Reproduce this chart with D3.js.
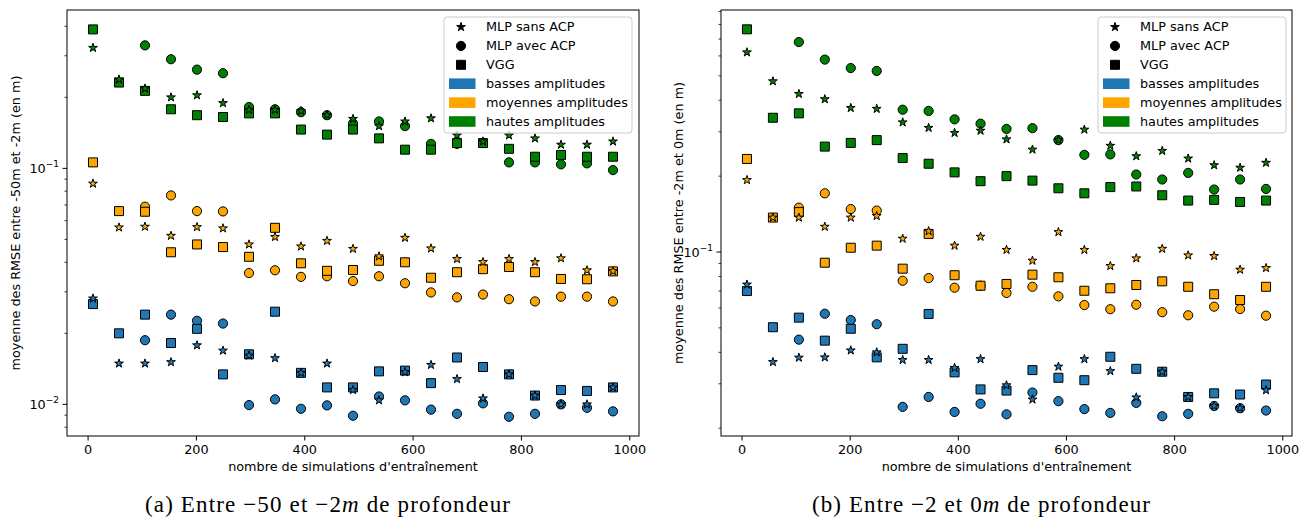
<!DOCTYPE html>
<html><head><meta charset="utf-8">
<script src="https://cdn.jsdelivr.net/npm/d3@7"></script>
<style>body{margin:0;background:#fff}svg{display:block}</style>
</head><body>
<svg id="chart" width="1309" height="517"></svg>
<script>
const simulations = [10,58,106,154,202,250,298,346,394,442,490,538,586,634,682,730,778,826,874,922,970];
const xTicks = [0,200,400,600,800,1000];
const models = ["MLP sans ACP","MLP avec ACP","VGG"];
const amplitudes = ["basses amplitudes","moyennes amplitudes","hautes amplitudes"];
const ampColors = ["#1f77b4","#ffa500","#008000"];

// (a) entre -50m et -2m
const aBassesSans = [0.0281,0.0149,0.0149,0.0151,0.0178,0.0169,0.0161,0.0157,0.0136,0.0149,0.0115,0.0104,0.0137,0.0147,0.0128,0.0106,0.0134,0.0109,0.0100,0.0100,0.0118];
const aBassesAvec = [null,null,0.0187,0.0240,0.0226,0.0220,0.00993,0.0105,0.00958,0.00990,0.00895,0.0108,0.0104,0.00950,0.00912,0.0101,0.00886,0.00912,0.0100,0.00967,0.00934];
const aBassesVGG  = [0.0266,0.0200,0.0240,0.0182,0.0209,0.0134,0.0163,0.0247,0.0136,0.0118,0.0118,0.0138,0.0139,0.0123,0.0158,0.0144,0.0134,0.0109,0.0115,0.0114,0.0118];
const aMoyennesSans = [0.0862,0.0562,0.0566,0.0518,0.0564,0.0557,0.0476,0.0512,0.0467,0.0493,0.0456,0.0424,0.0508,0.0458,0.0413,0.0401,0.0413,0.0401,0.0416,0.0370,0.0367];
const aMoyennesAvec = [null,null,0.0688,0.0768,0.0659,0.0657,0.0360,0.0370,0.0347,0.0349,0.0333,0.0349,0.0326,0.0298,0.0284,0.0292,0.0279,0.0273,0.0286,0.0286,0.0273];
const aMoyennesVGG  = [0.106,0.0659,0.0655,0.0441,0.0476,0.0464,0.0422,0.0560,0.0396,0.0368,0.0371,0.0406,0.0400,0.0344,0.0363,0.0374,0.0382,0.0363,0.0340,0.0339,0.0366];
const aHautesSans = [0.324,0.238,0.218,0.200,0.204,0.189,0.177,0.177,0.175,0.168,0.162,0.151,0.158,0.163,0.138,0.130,0.138,0.134,0.126,0.126,0.130];
const aHautesAvec = [null,null,0.332,0.290,0.262,0.253,0.182,0.178,0.173,0.168,0.155,0.158,0.151,0.127,0.127,0.128,0.106,0.106,0.104,0.105,0.0983];
const aHautesVGG  = [0.388,0.231,0.213,0.178,0.168,0.165,0.171,0.171,0.146,0.139,0.146,0.134,0.120,0.120,0.128,0.128,0.121,0.112,0.114,0.112,0.112];

// (b) entre -2m et 0m
const bBassesSans = [0.0743,0.0366,0.0381,0.0382,0.0407,0.0400,0.0373,0.0373,0.0347,0.0376,0.0296,0.0260,0.0351,0.0376,0.0337,0.0265,0.0335,0.0266,0.0245,0.0240,0.0283];
const bBassesAvec = [null,null,0.0449,0.0569,0.0537,0.0517,0.0243,0.0266,0.0232,0.0250,0.0227,0.0277,0.0256,0.0238,0.0230,0.0252,0.0223,0.0228,0.0245,0.0240,0.0235];
const bBassesVGG  = [0.0700,0.0503,0.0549,0.0445,0.0496,0.0382,0.0413,0.0568,0.0333,0.0285,0.0282,0.0340,0.0317,0.0310,0.0384,0.0344,0.0335,0.0266,0.0275,0.0272,0.0298];
const bMoyennesSans = [0.193,0.137,0.137,0.126,0.137,0.139,0.113,0.121,0.106,0.115,0.102,0.0924,0.120,0.102,0.0880,0.0944,0.103,0.0970,0.0964,0.0851,0.0864];
const bMoyennesAvec = [null,null,0.150,0.171,0.148,0.146,0.0769,0.0788,0.0722,0.0735,0.0688,0.0728,0.0667,0.0616,0.0593,0.0618,0.0577,0.0561,0.0607,0.0594,0.0559];
const bMoyennesVGG  = [0.234,0.137,0.144,0.0907,0.104,0.106,0.0859,0.118,0.0809,0.0735,0.0747,0.0813,0.0794,0.0702,0.0718,0.0740,0.0765,0.0728,0.0680,0.0645,0.0728];
const bHautesSans = [0.620,0.476,0.424,0.404,0.373,0.370,0.327,0.311,0.297,0.303,0.280,0.255,0.278,0.306,0.264,0.240,0.252,0.235,0.221,0.216,0.226];
const bHautesAvec = [null,null,0.681,0.580,0.537,0.523,0.367,0.363,0.336,0.323,0.308,0.310,0.278,0.243,0.244,0.203,0.194,0.206,0.177,0.194,0.178];
const bHautesVGG  = [0.765,0.341,0.355,0.262,0.271,0.278,0.236,0.224,0.207,0.191,0.200,0.192,0.179,0.171,0.181,0.182,0.168,0.160,0.161,0.158,0.160];

const FONT = "'DejaVu Sans', sans-serif";
const FS = 12.8;
const svg = d3.select("#chart");

const panels = [
  {
    series: [[aBassesSans,aBassesAvec,aBassesVGG],[aMoyennesSans,aMoyennesAvec,aMoyennesVGG],[aHautesSans,aHautesAvec,aHautesVGG]],
    left: 67, right: 639, top: 10, bottom: 436,
    yDomain: [Math.pow(10,-2.134), Math.pow(10,-0.329)],
    yLabel: "moyenne des RMSE entre -50m et -2m (en m)", yLabelX: 16,
    caption: ["(a) Entre ", "−50", " et ", "−2", "m", " de profondeur"], captionX: 327.5, captionW: 365,
    legendX: 444
  },
  {
    series: [[bBassesSans,bBassesAvec,bBassesVGG],[bMoyennesSans,bMoyennesAvec,bMoyennesVGG],[bHautesSans,bHautesAvec,bHautesVGG]],
    left: 721, right: 1292, top: 10, bottom: 436,
    yDomain: [Math.pow(10,-1.730), Math.pow(10,-0.0397)],
    yLabel: "moyenne des RMSE entre -2m et 0m (en m)", yLabelX: 679,
    caption: ["(b) Entre ", "−2", " et ", "0", "m", " de profondeur"], captionX: 981, captionW: 338,
    legendX: 1098
  }
];

const starSym = d3.symbol().type(d3.symbolStar).size(4.6*4.6/0.8908130915292852)();
const squareSym = d3.symbol().type(d3.symbolSquare).size(81)();
const circleSym = d3.symbol().type(d3.symbolCircle).size(Math.PI*4.6*4.6)();
const modelSym = [starSym, circleSym, squareSym];

panels.forEach(p => {
  const x = d3.scaleLinear().domain([-38, 1018]).range([p.left, p.right]);
  const y = d3.scaleLog().domain(p.yDomain).range([p.bottom, p.top]);
  const g = svg.append("g");

  // markers: circles (avec), squares (VGG), stars (sans)
  const order = [1, 2, 0];
  order.forEach(m => {
    p.series.forEach((amp, a) => {
      const vals = amp[m];
      const pts = simulations.map((s, i) => ({s, v: vals[i]})).filter(d => d.v != null);
      g.append("g").selectAll("path").data(pts).join("path")
        .attr("d", modelSym[m])
        .attr("transform", d => `translate(${x(d.s)},${y(d.v)})`)
        .attr("fill", ampColors[a])
        .attr("stroke", "#000")
        .attr("stroke-width", 1);
    });
  });

  // frame
  g.append("rect").attr("x", p.left).attr("y", p.top)
    .attr("width", p.right - p.left).attr("height", p.bottom - p.top)
    .attr("fill", "none").attr("stroke", "#000").attr("stroke-width", 1);

  // x axis
  const xa = g.append("g").attr("transform", `translate(0,${p.bottom})`)
    .call(d3.axisBottom(x).tickValues(xTicks).tickSize(4.5).tickPadding(4).tickFormat(d3.format("d")));
  xa.select(".domain").remove();
  xa.selectAll("text").attr("font-family", FONT).attr("font-size", FS).attr("fill", "#000");
  xa.selectAll("line").attr("stroke", "#000");

  // y axis: log ticks
  const [d0, d1] = p.yDomain;
  const minor = [], major = [];
  for (let k = Math.floor(Math.log10(d0)); k <= Math.ceil(Math.log10(d1)); k++) {
    const base = Math.pow(10, k);
    if (base >= d0 && base <= d1) major.push(base);
    for (let mm = 2; mm <= 9; mm++) { const v = mm * base; if (v >= d0 && v <= d1) minor.push(v); }
  }
  g.append("g").selectAll("line").data(minor).join("line")
    .attr("x1", p.left - 2.5).attr("x2", p.left)
    .attr("y1", d => y(d)).attr("y2", d => y(d))
    .attr("stroke", "#000").attr("stroke-width", 0.8);
  g.append("g").selectAll("line").data(major).join("line")
    .attr("x1", p.left - 4.5).attr("x2", p.left)
    .attr("y1", d => y(d)).attr("y2", d => y(d))
    .attr("stroke", "#000").attr("stroke-width", 1);
  const yl = g.append("g").selectAll("text").data(major).join("text")
    .attr("x", p.left - 8).attr("y", d => y(d) + 5)
    .attr("text-anchor", "end").attr("font-family", FONT).attr("font-size", FS).attr("fill", "#000");
  yl.append("tspan").text("10");
  yl.append("tspan").attr("dy", -6).attr("font-size", 9).text(d => "−" + Math.round(-Math.log10(d)));

  // axis labels
  g.append("text").attr("x", (p.left + p.right) / 2).attr("y", p.bottom + 35)
    .attr("text-anchor", "middle").attr("font-family", FONT).attr("font-size", FS)
    .text("nombre de simulations d'entraînement");
  g.append("text").attr("transform", `translate(${p.yLabelX + 4},${(p.top + p.bottom) / 2}) rotate(-90)`)
    .attr("text-anchor", "middle").attr("font-family", FONT).attr("font-size", FS)
    .text(p.yLabel);

  // legend
  const lx = p.legendX, ly = 17, lw = 188, lh = 116;
  const lg = g.append("g");
  lg.append("rect").attr("x", lx).attr("y", ly).attr("width", lw).attr("height", lh)
    .attr("rx", 3).attr("fill", "#fff").attr("fill-opacity", 0.8).attr("stroke", "#cccccc").attr("stroke-width", 1);
  const rowY = i => ly + 10 + i * 18.9;
  models.forEach((mname, i) => {
    lg.append("path").attr("d", modelSym[i]).attr("transform", `translate(${lx + 17},${rowY(i)})`)
      .attr("fill", "#000").attr("stroke", "#000").attr("stroke-width", 1);
    lg.append("text").attr("x", lx + 42).attr("y", rowY(i)).attr("dy", "0.35em")
      .attr("font-family", FONT).attr("font-size", FS).text(mname);
  });
  amplitudes.forEach((aname, j) => {
    const i = j + 3;
    lg.append("rect").attr("x", lx + 5).attr("y", rowY(i) - 5.3).attr("width", 26.5).attr("height", 10.6)
      .attr("fill", ampColors[j]);
    lg.append("text").attr("x", lx + 42).attr("y", rowY(i)).attr("dy", "0.35em")
      .attr("font-family", FONT).attr("font-size", FS).text(aname);
  });

  // caption
  const cap = g.append("text").attr("x", p.captionX - p.captionW / 2).attr("y", 512).attr("text-anchor", "start")
    .attr("font-family", "'Liberation Serif', 'DejaVu Serif', serif").attr("font-size", 23)
    .attr("textLength", p.captionW).attr("lengthAdjust", "spacing");
  p.caption.forEach((t, i) => {
    cap.append("tspan").text(t).attr("font-style", i === 4 ? "italic" : "normal");
  });
});
</script>
</body></html>
